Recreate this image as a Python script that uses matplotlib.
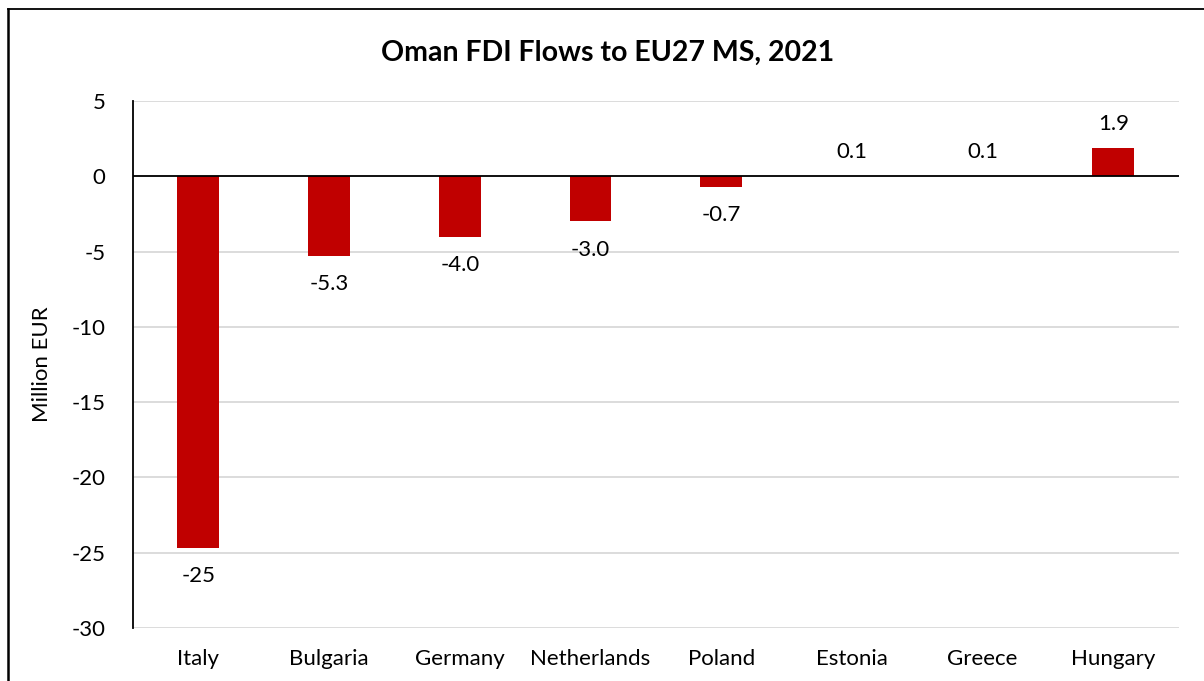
import matplotlib.pyplot as plt
from matplotlib.lines import Line2D

plt.rcParams['font.family'] = ['Lato', 'DejaVu Sans']
plt.rcParams['axes.unicode_minus'] = False

countries = ["Italy", "Bulgaria", "Germany", "Netherlands", "Poland", "Estonia", "Greece", "Hungary"]
flows = [-24.7, -5.3, -4.0, -3.0, -0.7, 0.05, 0.05, 1.9]
labels = ["-25", "-5.3", "-4.0", "-3.0", "-0.7", "0.1", "0.1", "1.9"]

fig = plt.figure(figsize=(12.04, 6.81), dpi=100)
ax = fig.add_axes([0.1105, 0.0778, 0.8685, 0.7739])

x = range(len(countries))
ax.bar(x, flows, width=0.32, color='#C00000', zorder=3)

# value labels: below negative bars, above positive ones
for i, (v, lab) in enumerate(zip(flows, labels)):
    if v < 0:
        ax.annotate(lab, (i, v), xytext=(0, -13), textcoords='offset points',
                    ha='center', va='top', fontsize=16)
    else:
        ax.annotate(lab, (i, v), xytext=(0, 10), textcoords='offset points',
                    ha='center', va='bottom', fontsize=16)

ax.set_xlim(-0.5, len(countries) - 0.5)
ax.set_ylim(-30, 5)
ax.set_yticks(range(-30, 6, 5))
ax.yaxis.grid(True, color='#D9D9D9', linewidth=1.3, zorder=0)
ax.axhline(0, color='black', linewidth=1.3, zorder=4)

ax.set_xticks(list(x))
ax.set_xticklabels(countries, fontsize=16)
ax.tick_params(axis='x', length=0, pad=15)
ax.tick_params(axis='y', length=0, pad=20, labelsize=16)

for s in ['top', 'right', 'bottom']:
    ax.spines[s].set_visible(False)
ax.spines['left'].set_linewidth(1.3)

ax.set_ylabel("Million EUR", fontsize=16, labelpad=14)
fig.suptitle("Oman FDI Flows to EU27 MS, 2021", fontsize=20.5, fontweight='bold', y=0.942, x=0.505)

# chart frame (left and top edges visible in the crop)
fig.add_artist(Line2D([8 / 1204, 8 / 1204], [0, 1 - 9 / 681], transform=fig.transFigure, color='black', linewidth=1.8))
fig.add_artist(Line2D([8 / 1204, 1], [1 - 9 / 681, 1 - 9 / 681], transform=fig.transFigure, color='black', linewidth=1.3))

fig.savefig("out.png", dpi=100)
